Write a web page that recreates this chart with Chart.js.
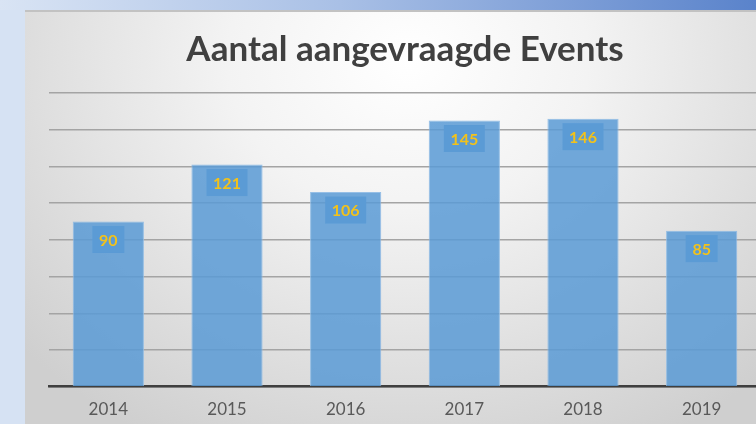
<!DOCTYPE html>
<html>
<head>
<meta charset="utf-8">
<script src="https://cdn.jsdelivr.net/npm/chart.js@4.4.1/dist/chart.umd.min.js"></script>
<style>
  html, body { margin:0; padding:0; width:756px; height:424px; overflow:hidden; }
  body { position:relative; background:#d6e2f3; }
  #topband { position:absolute; left:0; top:0; width:756px; height:10px;
    background:linear-gradient(to right, #d9e4f4 0%, #a9c0e6 45%, #5a83cb 100%); }
  #panel { position:absolute; left:25px; top:10px; width:736px; height:414px;
    background:radial-gradient(ellipse 70% 105% at 52% 12%, #ffffff 0%, #f3f3f3 35%, #cfcfcf 100%);
    box-shadow: inset 0 2px 0 #c2c2c2; }
  #c { position:absolute; left:0; top:0; }
</style>
</head>
<body>
<div id="topband"></div>
<div id="panel"><canvas id="c" width="736" height="414"></canvas></div>
<script>
const titleText = 'Aantal aangevraagde Events';
const categories = ['2014', '2015', '2016', '2017', '2018', '2019'];
const eventCounts = [90, 121, 106, 145, 146, 85];
const yMin = 0, yMax = 160, yStep = 20;

const labelBoxes = {
  id: 'labelBoxes',
  afterDatasetsDraw(chart) {
    const ctx = chart.ctx;
    const meta = chart.getDatasetMeta(0);
    ctx.save();
    ctx.font = 'bold 16px Lato, "Open Sans", sans-serif';
    ctx.textAlign = 'center';
    ctx.textBaseline = 'middle';
    meta.data.forEach((bar, i) => {
      const txt = String(eventCounts[i]);
      const cx = bar.x, top = bar.y;
      const w = Math.round(ctx.measureText(txt).width) + 13, h = 27;
      ctx.fillStyle = '#5b9bd5';
      ctx.fillRect(cx - w / 2, top + 4.5, w, h);
      ctx.fillStyle = '#f2c21b';
      ctx.fillText(txt, cx, top + 4.5 + h / 2 + 1);
    });
    ctx.restore();
  }
};

new Chart(document.getElementById('c'), {
  type: 'bar',
  data: {
    labels: categories,
    datasets: [{
      data: eventCounts,
      backgroundColor: 'rgba(91,155,213,0.86)',
      borderColor: 'rgba(140,185,228,0.9)',
      borderWidth: 1,
      categoryPercentage: 1.0,
      barPercentage: 0.6
    }]
  },
  options: {
    responsive: false,
    animation: false,
    layout: { padding: { left: 24, right: 0, top: 0, bottom: -9 } },
    plugins: {
      legend: { display: false },
      tooltip: { enabled: false },
      title: {
        display: true,
        text: titleText,
        color: '#404040',
        font: { family: 'Lato, "Open Sans", sans-serif', size: 35, weight: 'bold' },
        padding: { top: 19, bottom: 22 }
      }
    },
    scales: {
      x: {
        grid: { display: false, drawTicks: false },
        border: { display: true, color: '#3f3f3f', width: 2.5 },
        ticks: { color: '#595959', padding: 13, font: { family: 'Lato, "Open Sans", sans-serif', size: 17 } }
      },
      y: {
        min: yMin, max: yMax,
        ticks: { display: false, stepSize: yStep },
        grid: { color: '#a4a4a4', lineWidth: 1.4, drawTicks: false },
        border: { display: false }
      }
    }
  },
  plugins: [labelBoxes]
});
</script>
</body>
</html>
